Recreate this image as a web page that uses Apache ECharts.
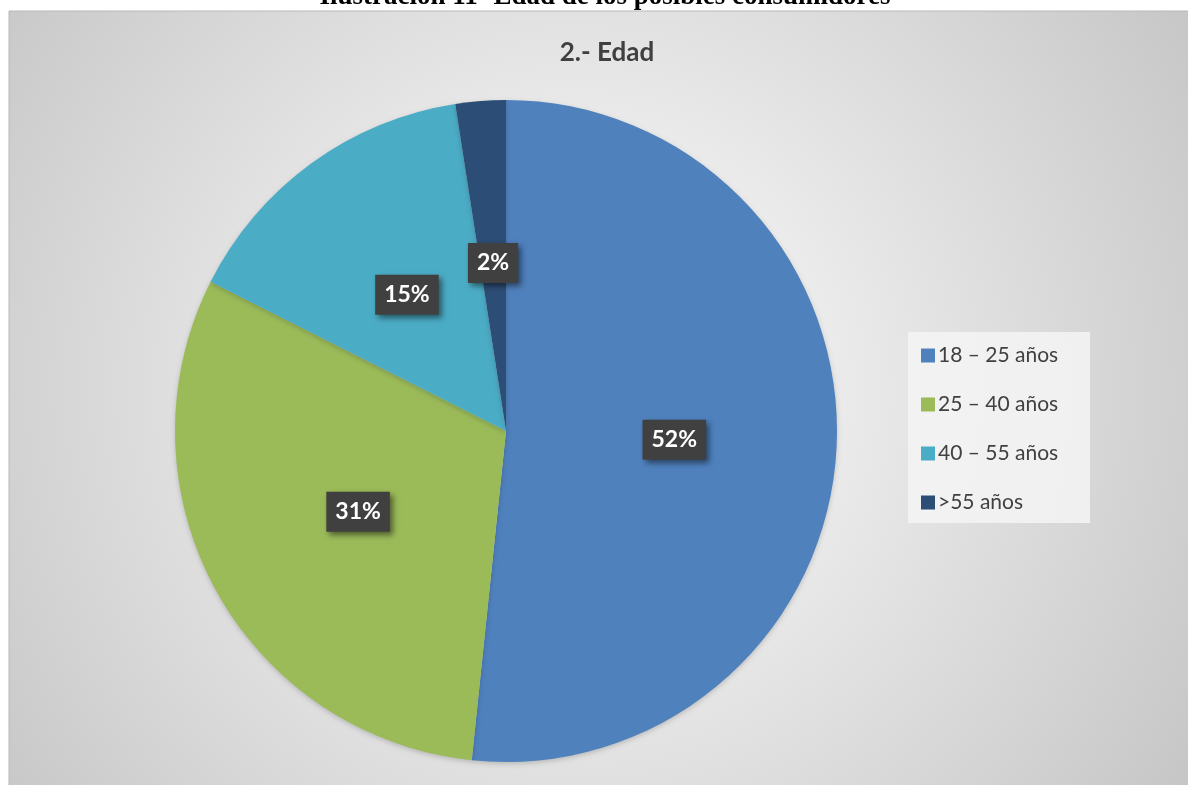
<!DOCTYPE html>
<html>
<head>
<meta charset="utf-8">
<script src="https://cdn.jsdelivr.net/npm/echarts@6/dist/echarts.min.js"></script>
<style>
html,body{margin:0;padding:0;background:#fff;}
#c{width:1188px;height:785px;}
</style>
</head>
<body>
<div id="c"></div>
<script>
const categories = ['18 – 25 años', '25 – 40 años', '40 – 55 años', '>55 años'];
const values = [51.65, 30.8, 15.1, 2.45];
const colors = ['#4F81BD', '#9BBB59', '#4BACC6', '#2C4D75'];
const caption = 'Ilustración 11- Edad de los posibles consumidores';
const chartTitle = '2.- Edad';

const chart = echarts.init(document.getElementById('c'));
chart.setOption({
  animation: false,
  graphic: [
    {
      type: 'rect', z: -10, silent: true,
      shape: { x: 9, y: 11, width: 1190, height: 790 },
      style: {
        fill: { type: 'radial', x: 0.48, y: 0.48, r: 0.95,
          colorStops: [{ offset: 0, color: '#ffffff' }, { offset: 1, color: '#c4c4c4' }] },
        stroke: '#b8b8b8', lineWidth: 1
      }
    },
    {
      type: 'rect', z: 1, silent: true,
      shape: { x: 908, y: 332, width: 182, height: 191 },
      style: { fill: 'rgba(245,245,245,0.85)' }
    },
    {
      type: 'text', z: 5, silent: true,
      x: 605, y: 11,
      style: { text: caption, fill: '#000', font: 'bold 27px "Liberation Serif"', textAlign: 'center', textVerticalAlign: 'bottom' }
    }
  ],
  title: {
    text: chartTitle, left: 602, top: 35, textAlign: 'center',
    textStyle: { fontFamily: 'Lato', fontWeight: 'bold', fontSize: 26, color: '#404040' }
  },
  legend: {
    orient: 'vertical', left: 921, top: 345, padding: 0,
    itemWidth: 14, itemHeight: 14, itemGap: 28, icon: 'rect',
    textStyle: { fontFamily: 'Lato', fontSize: 21, color: '#404040', lineHeight: 20, padding: [0, 0, 0, -2] },
    data: categories
  },
  series: [{
    type: 'pie',
    center: [506, 431], radius: 331,
    startAngle: 90, clockwise: true,
    color: colors,
    itemStyle: { borderWidth: 0, shadowBlur: 5, shadowColor: 'rgba(0,0,0,0.18)', shadowOffsetY: 2 },
    label: {
      show: true, position: 'inside',
      formatter: p => Math.round(p.percent) + '%',
      fontFamily: 'Lato', fontWeight: 'bold', fontSize: 23, color: '#fff',
      backgroundColor: '#404040', padding: [9, 9, 8, 9],
      shadowBlur: 6, shadowColor: 'rgba(0,0,0,0.5)', shadowOffsetX: 3, shadowOffsetY: 3
    },
    labelLine: { show: false },
    emphasis: { disabled: true },
    data: categories.map((n, i) => ({ name: n, value: values[i] }))
  }]
});
</script>
</body>
</html>
